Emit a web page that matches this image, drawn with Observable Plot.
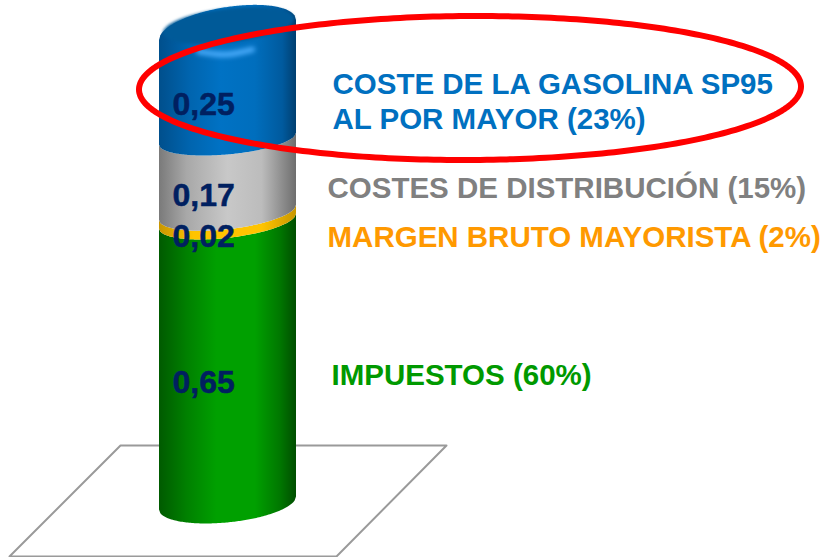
<!DOCTYPE html>
<html><head><meta charset="utf-8">
<script src="https://cdn.jsdelivr.net/npm/d3@7"></script>
<script src="https://cdn.jsdelivr.net/npm/@observablehq/plot@0.6"></script>
<style>html,body{margin:0;padding:0;background:#fff}svg{display:block}</style>
</head><body><div id="chart"></div>
<script>
// Data
const categories = ["IMPUESTOS", "MARGEN BRUTO MAYORISTA", "COSTES DE DISTRIBUCIÓN", "COSTE DE LA GASOLINA SP95"];
const values = [0.65, 0.02, 0.17, 0.25];
const valueLabels = ["0,65", "0,02", "0,17", "0,25"];
const shares = ["60%", "2%", "15%", "23%"];
const segmentIds = ["green", "yellow", "grey", "blue"];
const labelColors = ["#009900", "#FF9900", "#808080", "#0070C0"];

// Layout
const W = 825, H = 557, baseY = 503, unit = 434;
const cx = 227.5, a = 68.5;
const py = p => (baseY - p) / unit;
const bulge = [19.4, 17, 17, 16, 23];
const tilt = [-6.5, -7.5, -7.5, -6, -10];
const us = d3.range(-1, 1.0001, 0.02).map(u => Math.max(-1, Math.min(1, u)));
const tops = d3.cumsum(values);
const bases = [0, ...tops];

function frontOff(i, u) { return bulge[i] * Math.sqrt(1 - u * u) + tilt[i] * u; }
function backOff(i, u) { return -bulge[i] * Math.sqrt(1 - u * u) + tilt[i] * u; }

const segMarks = values.map((v, i) => {
  const last = i === values.length - 1;
  const rows = us.map(u => ({
    x: cx + a * u,
    y1: bases[i] - frontOff(i, u) / unit,
    y2: bases[i + 1] - (last ? backOff(i + 1, u) : frontOff(i + 1, u)) / unit
  }));
  return Plot.areaY(rows, {x: "x", y1: "y1", y2: "y2", fill: `url(#${segmentIds[i]})`});
});

// Cap of the top segment
const capCy = 25, capA = 65, capB = 16.6, capS = -7;
const capRows = d3.range(0, 2 * Math.PI + 0.01, 0.05).map(t => ({
  x: 228 + capA * Math.cos(t),
  y: py(capCy + capB * Math.sin(t) + capS * Math.cos(t))
}));
const glow = [[198, 51], [225, 54], [252, 49]].map(([x, y]) => ({x, y: py(y)}));

// Callout ring
const ring = d3.range(0, 2 * Math.PI + 0.02, 0.02).map(t => ({
  x: 469.5 + 331 * Math.cos(t),
  y: py(87.5 + 72 * Math.sin(t) - 1.5 * Math.cos(t))
}));
const floor = [[120, 445], [446, 445], [336, 556], [9, 556], [120, 445]].map(([x, y]) => ({x, y: py(y)}));

const stops = (id, cs) => `<linearGradient id="${id}" gradientUnits="userSpaceOnUse" x1="${cx - a}" x2="${cx + a}" y1="0" y2="0">` +
  cs.map(([o, c]) => `<stop offset="${o}" stop-color="${c}"/>`).join("") + `</linearGradient>`;

const defs = () => {
  const g = document.createElementNS("http://www.w3.org/2000/svg", "defs");
  g.innerHTML =
    stops("green", [[0, "#005a00"], [0.2, "#008000"], [0.42, "#00a000"], [0.7, "#00a000"], [0.88, "#007800"], [1, "#004e00"]]) +
    stops("yellow", [[0, "#c89600"], [0.25, "#ffc400"], [0.75, "#ffc400"], [1, "#c89600"]]) +
    stops("grey", [[0, "#7a7a7a"], [0.2, "#a8a8a8"], [0.5, "#c8c8c8"], [0.75, "#bcbcbc"], [1, "#6e6e6e"]]) +
    stops("blue", [[0, "#004f8c"], [0.22, "#0064ae"], [0.45, "#0072c4"], [0.7, "#006ebd"], [0.9, "#005a9e"], [1, "#003f70"]]);
  return g;
};

const font = "'Liberation Sans', Arial, sans-serif";
const labelMark = (lines, i, x, yPx) => lines.map((t, k) => Plot.text([t], {
  text: d => d, frameAnchor: "top-left", dx: x, dy: yPx + k * 35, textAnchor: "start", lineAnchor: "middle",
  fill: labelColors[i], fontSize: 29.5, fontWeight: "bold", fontFamily: font
}));

const valueRows = values.map((v, i) => ({y: bases[i] + v / 2, t: valueLabels[i]}));

const plot = Plot.plot({
  width: W, height: H, margin: 0,
  x: {domain: [0, W], range: [0, W], axis: null},
  y: {domain: [py(H), py(0)], range: [H, 0], axis: null},
  style: {background: "#fff", overflow: "visible"},
  marks: [
    defs,
    Plot.line(floor, {x: "x", y: "y", stroke: "#9a9a9a", strokeWidth: 2}),
    ...segMarks,
    Plot.line(capRows, {x: "x", y: "y", fill: "#005a98", stroke: "#005a98", strokeWidth: 1, imageFilter: "blur(1.5px)"}),
    Plot.line(glow, {x: "x", y: "y", stroke: "#4fb0ff", strokeWidth: 5, curve: "natural", imageFilter: "blur(2.5px)"}),
    Plot.text(valueRows, {
      x: () => 172, y: "y", text: "t", dy: 20, textAnchor: "start", lineAnchor: "middle",
      fill: "#002060", stroke: "#002060", strokeWidth: 0.5, fontSize: 32, fontWeight: "bold", fontFamily: font
    }),
    Plot.line(ring, {x: "x", y: "y", stroke: "#ff0000", strokeWidth: 6}),
    ...labelMark([`${categories[3]}`, `AL POR MAYOR (${shares[3]})`], 3, 332, 84),
    ...labelMark([`${categories[2]} (${shares[2]})`], 2, 327, 188),
    ...labelMark([`${categories[1]} (${shares[1]})`], 1, 327, 237),
    ...labelMark([`${categories[0]} (${shares[0]})`], 0, 331, 375)
  ]
});
document.getElementById("chart").append(plot);
</script></body></html>
